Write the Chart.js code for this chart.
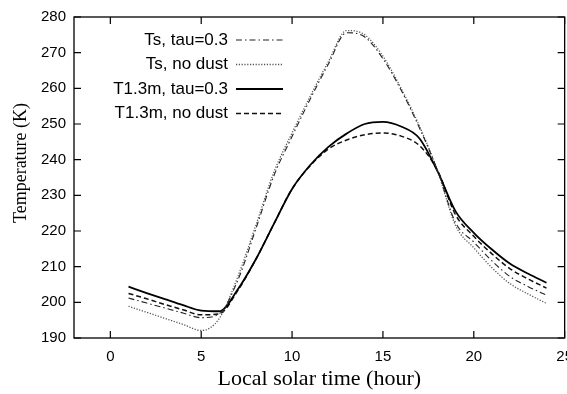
<!DOCTYPE html>
<html>
<head>
<meta charset="utf-8">
<script src="https://cdn.jsdelivr.net/npm/chart.js@4.4.1/dist/chart.umd.min.js"></script>
<style>
    html, body { margin: 0; padding: 0; background: #fff; overflow: hidden; }
    #wrap { width: 583px; height: 394px; }
</style>
</head>
<body>
<div id="wrap"><canvas id="chart"></canvas></div>
<script>
// Local solar time (hour)
const hours = [1, 2, 3, 4, 5, 6, 7, 8, 9, 10, 11, 12, 13, 14, 15, 16, 17, 18, 19, 20, 21, 22, 23, 24];

// Temperatures (K)
const tsTau = [201.2, 199.8, 198.4, 197.0, 195.7, 196.8, 206.0, 220.5, 235.5, 246.5, 257.0, 266.8,
    275.6, 274.4, 268.3, 259.5, 249.0, 237.0, 222.3, 216.9, 211.6, 207.2, 204.4, 202.0];
const tsNoDust = [198.9, 197.2, 195.5, 193.8, 192.1, 195.5, 207.0, 221.5, 236.5, 247.5, 257.8, 267.5,
    276.2, 275.0, 269.0, 260.0, 249.5, 237.0, 221.5, 215.3, 209.7, 205.2, 202.3, 199.7];
const t13Tau = [204.4, 202.6, 200.9, 199.2, 197.7, 197.5, 203.5, 212.0, 222.0, 231.8, 238.5, 243.6,
    247.3, 250.0, 250.6, 249.3, 246.0, 236.8, 225.5, 219.5, 214.8, 210.8, 208.0, 205.5];
const t13NoDust = [202.5, 201.0, 199.4, 197.9, 196.5, 196.8, 203.2, 212.0, 222.0, 231.8, 238.3, 243.0,
    245.5, 247.0, 247.5, 246.6, 244.0, 237.0, 224.5, 218.5, 213.6, 209.4, 206.5, 204.0];

const xTicks = [0, 5, 10, 15, 20, 25];
const yTicks = [190, 200, 210, 220, 230, 240, 250, 260, 270, 280];

const SERIES = [
    { label: "Ts, tau=0.3", data: tsTau, color: "#222", width: 1.1, dash: [6, 3, 1.5, 3] },
    { label: "Ts, no dust", data: tsNoDust, color: "#555", width: 1.3, dash: [1.2, 1.6] },
    { label: "T1.3m, tau=0.3", data: t13Tau, color: "#000", width: 1.8, dash: [] },
    { label: "T1.3m, no dust", data: t13NoDust, color: "#111", width: 1.5, dash: [5, 3] },
];

// box round the plot, with inward ticks on all four sides
const framePlugin = {
    id: "frame",
    afterDatasetsDraw(chart) {
        const { ctx, chartArea: a, scales } = chart;
        ctx.save();
        ctx.strokeStyle = "#000";
        ctx.lineWidth = 1.3;
        ctx.strokeRect(a.left, a.top, a.right - a.left, a.bottom - a.top);
        ctx.lineWidth = 1.2;
        ctx.beginPath();
        const len = 7;
        xTicks.forEach(v => {
            const px = scales.x.getPixelForValue(v);
            ctx.moveTo(px, a.bottom); ctx.lineTo(px, a.bottom - len);
            ctx.moveTo(px, a.top); ctx.lineTo(px, a.top + len);
        });
        yTicks.forEach(v => {
            const py = scales.y.getPixelForValue(v);
            ctx.moveTo(a.left, py); ctx.lineTo(a.left + len, py);
            ctx.moveTo(a.right, py); ctx.lineTo(a.right - len, py);
        });
        ctx.stroke();

        // y axis title, set a bit above the middle as in the figure
        ctx.fillStyle = "#000";
        ctx.font = "18px 'Liberation Serif', 'Times New Roman', serif";
        ctx.textAlign = "center";
        ctx.textBaseline = "middle";
        ctx.translate(21, 163);
        ctx.rotate(-Math.PI / 2);
        ctx.fillText("Temperature (K)", 0, 0);
        ctx.restore();
    },
};

// legend inside the plot: text right-aligned, sample line to its right
const legendPlugin = {
    id: "insideLegend",
    afterDraw(chart) {
        const { ctx, chartArea: a } = chart;
        const textRight = a.left + 154;
        ctx.save();
        ctx.font = "17px 'Liberation Sans', Arial, sans-serif";
        ctx.textAlign = "right";
        ctx.textBaseline = "middle";
        SERIES.forEach((s, i) => {
            const y = a.top + 23 + i * 24.5;
            ctx.fillStyle = "#000";
            ctx.fillText(s.label, textRight, y);
            ctx.strokeStyle = s.color;
            ctx.lineWidth = s.width;
            ctx.setLineDash(s.dash);
            ctx.beginPath();
            ctx.moveTo(textRight + 8, y);
            ctx.lineTo(textRight + 55, y);
            ctx.stroke();
        });
        ctx.restore();
    },
};

new Chart(document.getElementById("chart"), {
    type: "line",
    data: {
        datasets: SERIES.map(s => ({
            label: s.label,
            data: hours.map((h, i) => ({ x: h, y: s.data[i] })),
            borderColor: s.color,
            borderWidth: s.width,
            borderDash: s.dash,
            pointRadius: 0,
            fill: false,
            cubicInterpolationMode: "monotone",
        })),
    },
    options: {
        responsive: true,
        maintainAspectRatio: false,
        animation: false,
        layout: { padding: { top: 17, right: 0, left: 0, bottom: 0 } },
        plugins: {
            legend: { display: false },
            tooltip: { enabled: false },
        },
        scales: {
            x: {
                type: "linear",
                min: -2,
                max: 25,
                afterBuildTicks: scale => { scale.ticks = xTicks.map(v => ({ value: v })); },
                afterFit: scale => { scale.height = 56; },
                grid: { display: false, drawTicks: false },
                border: { display: false },
                ticks: {
                    padding: 10,
                    color: "#000",
                    font: { family: "'Liberation Sans', Arial, sans-serif", size: 15 },
                },
                title: {
                    display: true,
                    text: "Local solar time (hour)",
                    color: "#000",
                    font: { family: "'Liberation Serif', 'Times New Roman', serif", size: 22 },
                    padding: { top: 0, bottom: 2 },
                },
            },
            y: {
                min: 190,
                max: 280,
                afterBuildTicks: scale => { scale.ticks = yTicks.map(v => ({ value: v })); },
                afterFit: scale => { scale.width = 74; },
                grid: { display: false, drawTicks: false },
                border: { display: false },
                ticks: {
                    padding: 8,
                    color: "#000",
                    font: { family: "'Liberation Sans', Arial, sans-serif", size: 15 },
                },
            },
        },
    },
    plugins: [framePlugin, legendPlugin],
});
</script>
</body>
</html>
